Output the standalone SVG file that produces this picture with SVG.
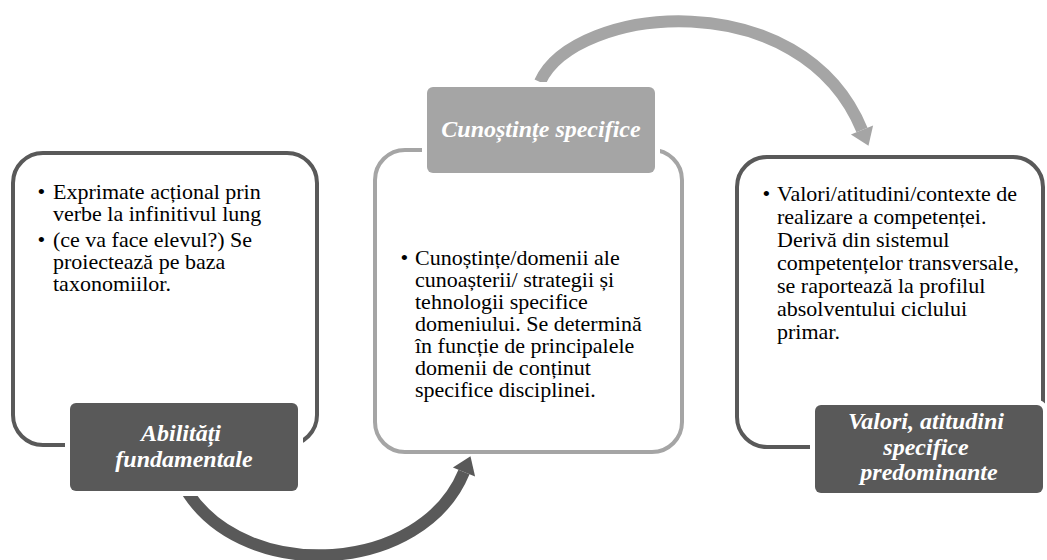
<svg xmlns="http://www.w3.org/2000/svg" width="1047" height="560" viewBox="0 0 1047 560">
  <style>
    .box { fill: #ffffff; stroke-width: 4; }
    .dark { stroke: #595959; }
    .light { stroke: #a5a5a5; }
    .lbl { stroke: #ffffff; stroke-width: 10; paint-order: stroke; }
    .lbl-dark { fill: #595959; }
    .lbl-light { fill: #a5a5a5; }
    text { font-family: 'Liberation Serif', 'Times New Roman', Times, Tinos, 'Nimbus Roman', 'Nimbus Roman No9 L', FreeSerif, 'Noto Serif', 'DejaVu Serif', serif; }
    .body { font-size: 22px; fill: #000000; }
    .title { font-size: 24px; font-style: italic; font-weight: bold; fill: #ffffff; text-anchor: middle; }
    .bullet { text-anchor: middle; }
    .shaft { fill: none; stroke-width: 12; }
  </style>
  <defs>
    <marker id="headLight" markerUnits="userSpaceOnUse" markerWidth="20" markerHeight="26" refX="0" refY="12" orient="auto" overflow="visible">
      <path d="M0,0 L17,12 L0,24 Z" fill="#a5a5a5"/>
    </marker>
    <marker id="headDark" markerUnits="userSpaceOnUse" markerWidth="20" markerHeight="26" refX="0" refY="12" orient="auto" overflow="visible">
      <path d="M0,0 L17,12 L0,24 Z" fill="#595959"/>
    </marker>
  </defs>

  <g id="connectors">
    <path class="shaft" stroke="#a5a5a5" d="M540,82 C575,5 801,-18 862,130" marker-end="url(#headLight)"/>
    <path class="shaft" stroke="#595959" d="M188,493 C248,584 422,574 464,472" marker-end="url(#headDark)"/>
  </g>

  <g id="node-abilitati">
    <rect class="box dark" x="13" y="153" width="304" height="292" rx="30" ry="30"/>
    <text class="body">
      <tspan class="bullet" x="44" y="199">•</tspan>
      <tspan x="53" y="199">Exprimate acțional prin</tspan>
      <tspan x="53" y="221">verbe la infinitivul lung</tspan>
      <tspan class="bullet" x="44" y="247">•</tspan>
      <tspan x="53" y="247">(ce va face elevul?) Se</tspan>
      <tspan x="53" y="269">proiectează pe baza</tspan>
      <tspan x="53" y="291">taxonomiilor.</tspan>
    </text>
    <rect class="lbl lbl-dark" x="70" y="403" width="228" height="88" rx="6" ry="6"/>
    <text class="title">
      <tspan x="184" y="441">Abilități</tspan>
      <tspan x="184" y="467">fundamentale</tspan>
    </text>
  </g>

  <g id="node-cunostinte">
    <rect class="box light" x="375" y="150" width="307" height="302" rx="30" ry="30"/>
    <text class="body">
      <tspan class="bullet" x="407" y="265">•</tspan>
      <tspan x="415" y="265">Cunoștințe/domenii ale</tspan>
      <tspan x="415" y="287">cunoașterii/ strategii și</tspan>
      <tspan x="415" y="309">tehnologii specifice</tspan>
      <tspan x="415" y="331">domeniului. Se determină</tspan>
      <tspan x="415" y="353">în funcție de principalele</tspan>
      <tspan x="415" y="375">domenii de conținut</tspan>
      <tspan x="415" y="397">specifice disciplinei.</tspan>
    </text>
    <rect class="lbl lbl-light" x="427" y="87" width="228" height="86" rx="6" ry="6"/>
    <text class="title" x="541" y="137">Cunoștințe specifice</text>
  </g>

  <g id="node-valori">
    <rect class="box dark" x="737" y="157" width="306" height="290" rx="30" ry="30"/>
    <text class="body">
      <tspan class="bullet" x="769" y="201">•</tspan>
      <tspan x="777" y="201">Valori/atitudini/contexte de</tspan>
      <tspan x="777" y="224">realizare a competenței.</tspan>
      <tspan x="777" y="247">Derivă din sistemul</tspan>
      <tspan x="777" y="270">competențelor transversale,</tspan>
      <tspan x="777" y="293">se raportează la profilul</tspan>
      <tspan x="777" y="316">absolventului ciclului</tspan>
      <tspan x="777" y="339">primar.</tspan>
    </text>
    <rect class="lbl lbl-dark" x="815" y="405" width="228" height="88" rx="6" ry="6"/>
    <text class="title">
      <tspan x="929" y="429">Valori, atitudini</tspan>
      <tspan x="929" y="455">specifice</tspan>
      <tspan x="929" y="480">predominante</tspan>
    </text>
  </g>
</svg>
